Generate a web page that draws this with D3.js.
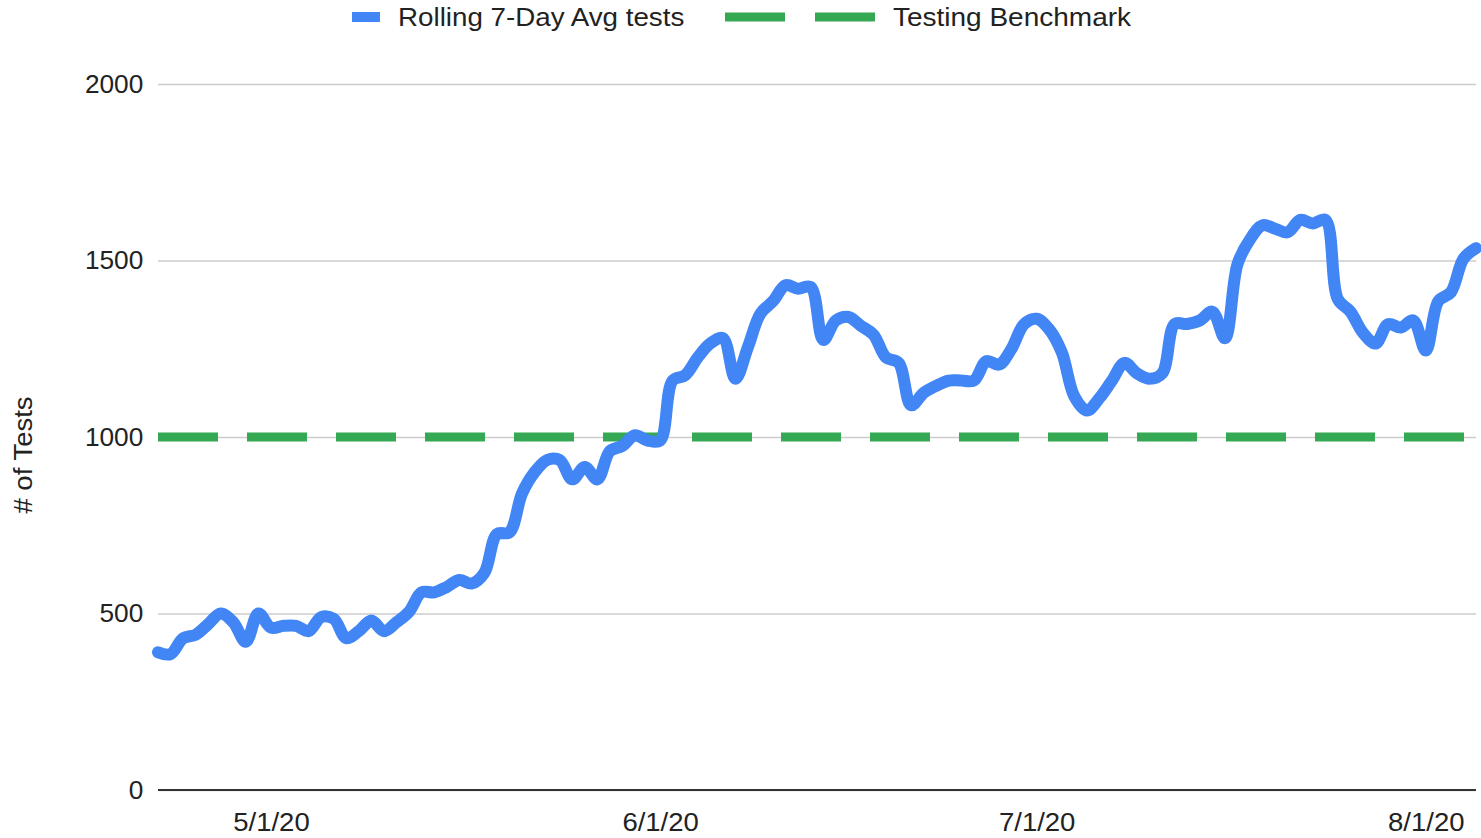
<!DOCTYPE html>
<html>
<head>
<meta charset="utf-8">
<script src="https://cdn.jsdelivr.net/npm/d3@7"></script>
<style>
  body { margin: 0; background: #fff; }
  text { font-family: Arial, "Liberation Sans", sans-serif; fill: #222; }
</style>
</head>
<body>
<div class="chart"></div>
<script>
// Data
var startDate = "2020-04-22";
var tests = [
  390, 385, 430, 440, 470, 500, 475, 420, 500,            // 4/22 - 4/30
  460, 465, 465, 450, 490, 485, 430, 450, 480, 450,       // 5/1 - 5/10
  475, 505, 560, 560, 575, 595, 585, 615, 725, 730,       // 5/11 - 5/20
  840, 900, 935, 935, 880, 915, 880, 960, 975, 1005, 990, // 5/21 - 5/31
  990, 1160, 1175, 1225, 1265, 1280, 1165, 1255, 1350, 1385, // 6/1 - 6/10
  1430, 1420, 1425, 1275, 1330, 1340, 1315, 1290, 1225, 1210, // 6/11 - 6/20
  1090, 1125, 1145, 1160, 1160, 1160, 1215, 1205, 1250, 1320, // 6/21 - 6/30
  1335, 1305, 1240, 1115, 1075, 1110, 1160, 1210, 1180, 1165, // 7/1 - 7/10
  1180, 1320, 1320, 1330, 1355, 1280, 1490, 1560, 1600, 1590, // 7/11 - 7/20
  1580, 1615, 1605, 1615, 1390, 1355, 1295, 1265, 1320, 1310, 1330, // 7/21 - 7/31
  1245, 1385, 1410, 1505, 1535                             // 8/1 - 8/5
];
var benchmark = 1000;
var yTicks = [0, 500, 1000, 1500, 2000];
var xTicks = ["2020-05-01", "2020-06-01", "2020-07-01", "2020-08-01"];
var seriesNames = ["Rolling 7-Day Avg tests", "Testing Benchmark"];

// Configuration
var width = 1481;
var height = 838;
var margin = {left: 158, right: 5, top: 84, bottom: 48};

var parse = d3.timeParse("%Y-%m-%d");
var t0 = parse(startDate);
var data = tests.map(function(v, i) {
  return {date: d3.timeDay.offset(t0, i), value: v};
});

var svg = d3.select(".chart").append("svg")
  .attr("width", width)
  .attr("height", height);

var x = d3.scaleTime()
  .domain(d3.extent(data, function(d) { return d.date; }))
  .range([margin.left, width - margin.right]);

var y = d3.scaleLinear()
  .domain([0, 2000])
  .range([height - margin.bottom, margin.top]);

// Gridlines + y labels
var yAxis = svg.append("g")
  .attr("transform", "translate(" + margin.left + ",0)")
  .call(d3.axisLeft(y).tickValues(yTicks)
    .tickSize(-(width - margin.left - margin.right))
    .tickPadding(14)
    .tickFormat(d3.format("d")));
yAxis.select(".domain").remove();
yAxis.selectAll(".tick line")
  .attr("stroke", "#cccccc")
  .attr("stroke-width", 1.5);
yAxis.selectAll(".tick text")
  .style("font-size", "25px")
  .attr("fill", "#222")
  .attr("transform", "scale(1.05,1)");

// Baseline
svg.append("line")
  .attr("x1", margin.left)
  .attr("x2", width - margin.right)
  .attr("y1", y(0))
  .attr("y2", y(0))
  .attr("stroke", "#333")
  .attr("stroke-width", 2);

// X labels
var xAxis = svg.append("g")
  .attr("transform", "translate(0," + y(0) + ")")
  .call(d3.axisBottom(x).tickValues(xTicks.map(parse))
    .tickSize(0)
    .tickPadding(23)
    .tickFormat(d3.timeFormat("%-m/%-d/%y")));
xAxis.select(".domain").remove();
xAxis.selectAll(".tick text")
  .style("font-size", "25px")
  .attr("fill", "#222")
  .attr("transform", "scale(1.1,1)");

// Benchmark dashed line
svg.append("line")
  .attr("x1", margin.left)
  .attr("x2", width - margin.right)
  .attr("y1", y(benchmark))
  .attr("y2", y(benchmark))
  .attr("stroke", "#34a853")
  .attr("stroke-width", 9)
  .attr("stroke-dasharray", "60,29");

// Tests line
var line = d3.line()
  .x(function(d) { return x(d.date); })
  .y(function(d) { return y(d.value); })
  .curve(d3.curveCatmullRom.alpha(0.5));

svg.append("path")
  .datum(data)
  .attr("fill", "none")
  .attr("stroke", "#4285f4")
  .attr("stroke-width", 12)
  .attr("stroke-linejoin", "round")
  .attr("stroke-linecap", "round")
  .attr("d", line);

// Y title
svg.append("text")
  .attr("transform", "translate(32,455) rotate(-90) scale(1.1,1)")
  .attr("text-anchor", "middle")
  .style("font-size", "25px")
  .text("# of Tests");

// Legend
var legend = svg.append("g");
legend.append("rect")
  .attr("x", 352).attr("y", 12)
  .attr("width", 28).attr("height", 10)
  .attr("fill", "#4285f4");
legend.append("text")
  .attr("transform", "translate(398,26) scale(1.11,1)")
  .style("font-size", "25px")
  .text(seriesNames[0]);
legend.append("line")
  .attr("x1", 725).attr("x2", 875)
  .attr("y1", 17).attr("y2", 17)
  .attr("stroke", "#34a853")
  .attr("stroke-width", 9)
  .attr("stroke-dasharray", "60,30");
legend.append("text")
  .attr("transform", "translate(893,26) scale(1.12,1)")
  .style("font-size", "25px")
  .text(seriesNames[1]);
</script>
</body>
</html>
